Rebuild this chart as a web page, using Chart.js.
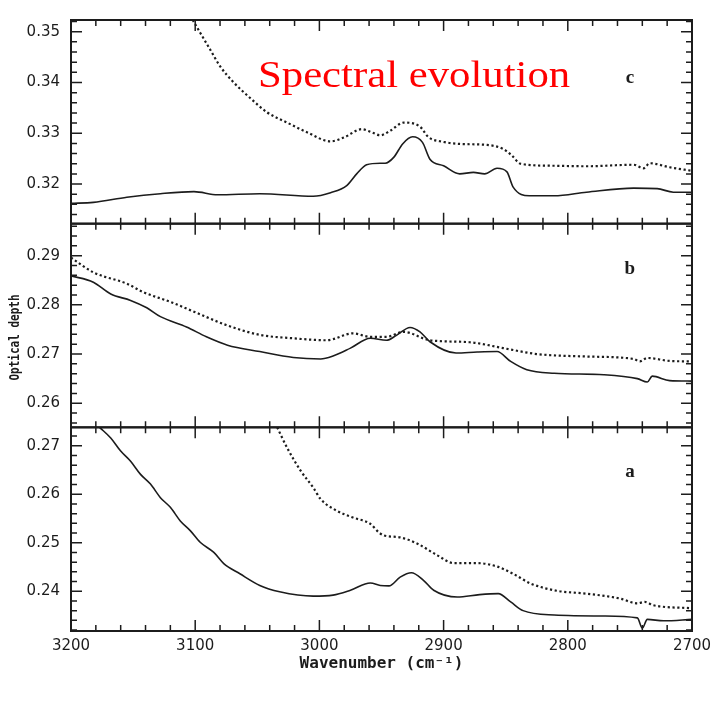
<!DOCTYPE html>
<html>
<head>
<meta charset="utf-8">
<script src="https://cdn.jsdelivr.net/npm/chart.js@4.4.1/dist/chart.umd.min.js"></script>
<style>
  html, body { margin: 0; padding: 0; background: #fff; }
  #wrap { width: 728px; height: 701px; }
</style>
</head>
<body>
<div id="wrap"><canvas id="chart" width="728" height="701"></canvas></div>
<script>
// Panel c (top)
const cSolidWn  = [3200, 3182, 3155, 3128, 3101, 3082, 3048, 3005, 2991, 2978, 2970, 2962, 2951, 2947, 2940, 2933, 2925, 2917, 2911, 2900, 2887, 2876, 2867, 2857, 2849, 2844, 2831, 2811, 2785, 2747, 2728, 2715, 2700];
const cSolidVal = [0.3162, 0.3164, 0.3174, 0.3181, 0.3185, 0.3179, 0.3181, 0.3176, 0.3183, 0.3197, 0.3220, 0.3238, 0.3241, 0.3241, 0.3253, 0.3279, 0.3293, 0.3282, 0.3249, 0.3236, 0.3220, 0.3223, 0.3220, 0.3231, 0.3224, 0.3194, 0.3177, 0.3177, 0.3184, 0.3192, 0.3191, 0.3184, 0.3184];
const cDotWn  = [3102, 3096, 3088, 3080, 3069, 3056, 3042, 3026, 3010, 2991, 2980, 2966, 2958, 2951, 2943, 2932, 2919, 2912, 2900, 2887, 2865, 2852, 2845, 2838, 2811, 2785, 2747, 2739, 2734, 2718, 2700];
const cDotVal = [0.3523, 0.3498, 0.3465, 0.3432, 0.3400, 0.3370, 0.3341, 0.3321, 0.3302, 0.3284, 0.3292, 0.3308, 0.3302, 0.3296, 0.3305, 0.3321, 0.3313, 0.3292, 0.3283, 0.3279, 0.3277, 0.3269, 0.3256, 0.3240, 0.3236, 0.3235, 0.3238, 0.3231, 0.3241, 0.3233, 0.3226];

// Panel b (middle)
const bSolidWn  = [3200, 3182, 3168, 3152, 3139, 3128, 3107, 3091, 3074, 3048, 3021, 2999, 2989, 2975, 2959, 2946, 2938, 2927, 2919, 2911, 2890, 2873, 2857, 2846, 2833, 2811, 2771, 2744, 2736, 2732, 2718, 2700];
const bSolidVal = [0.2859, 0.2846, 0.2822, 0.2809, 0.2794, 0.2776, 0.2755, 0.2735, 0.2718, 0.2705, 0.2693, 0.2690, 0.2696, 0.2712, 0.2732, 0.2728, 0.2738, 0.2754, 0.2745, 0.2725, 0.2702, 0.2704, 0.2705, 0.2685, 0.2668, 0.2661, 0.2658, 0.2650, 0.2643, 0.2655, 0.2646, 0.2645];
const bDotWn  = [3200, 3182, 3155, 3142, 3120, 3101, 3075, 3048, 3021, 2994, 2973, 2959, 2946, 2932, 2911, 2879, 2852, 2825, 2785, 2747, 2742, 2736, 2718, 2700];
const bDotVal = [0.2896, 0.2866, 0.2843, 0.2826, 0.2806, 0.2786, 0.2759, 0.2739, 0.2732, 0.2728, 0.2742, 0.2735, 0.2735, 0.2745, 0.2728, 0.2724, 0.2712, 0.2700, 0.2695, 0.2690, 0.2685, 0.2692, 0.2686, 0.2685];

// Panel a (bottom)
const aSolidWn  = [3177, 3168, 3160, 3152, 3144, 3136, 3128, 3120, 3112, 3104, 3096, 3085, 3077, 3064, 3048, 3032, 3005, 2989, 2975, 2959, 2951, 2944, 2935, 2926, 2916, 2908, 2889, 2871, 2856, 2846, 2836, 2811, 2771, 2744, 2740, 2736, 2723, 2700];
const aSolidVal = [0.2738, 0.2716, 0.2689, 0.2668, 0.2641, 0.2621, 0.2593, 0.2573, 0.2545, 0.2525, 0.2501, 0.2480, 0.2457, 0.2436, 0.2412, 0.2399, 0.2390, 0.2392, 0.2402, 0.2417, 0.2412, 0.2411, 0.2429, 0.2438, 0.2422, 0.2402, 0.2388, 0.2393, 0.2395, 0.2378, 0.2360, 0.2351, 0.2349, 0.2345, 0.2324, 0.2342, 0.2339, 0.2342];
const aDotWn  = [3034, 3026, 3015, 3005, 2999, 2986, 2973, 2959, 2952, 2948, 2935, 2921, 2905, 2892, 2873, 2857, 2844, 2830, 2809, 2785, 2758, 2744, 2738, 2731, 2700];
const aDotVal = [0.2738, 0.2696, 0.2648, 0.2614, 0.2590, 0.2566, 0.2552, 0.2539, 0.2521, 0.2515, 0.2511, 0.2498, 0.2474, 0.2458, 0.2458, 0.2451, 0.2436, 0.2416, 0.2401, 0.2395, 0.2385, 0.2375, 0.2378, 0.2371, 0.2365];

// axis ranges per panel
const panelIds = ['ya', 'yb', 'yc'];
const panelLetters = ['a', 'b', 'c'];
const panelMin = [0.2318, 0.2551, 0.3122];
const panelMax = [0.2738, 0.2965, 0.3523];
const xTickLabels = [3200, 3100, 3000, 2900, 2800, 2700];

const INK = '#1c1c1c';

function toPoints(wn, vals) {
    return wn.map((x, i) => ({ x: x, y: vals[i] }));
}

function lineSet(wn, vals, axis, dotted) {
    return {
        data: toPoints(wn, vals),
        yAxisID: axis,
        borderColor: INK,
        borderWidth: dotted ? 2.2 : 1.6,
        borderDash: dotted ? [2.2, 2.6] : [],
        pointRadius: 0,
        fill: false,
        cubicInterpolationMode: 'monotone'
    };
}

function panelScale(i) {
    return {
        type: 'linear',
        position: 'left',
        stack: 'panels',
        stackWeight: 1,
        min: panelMin[i],
        max: panelMax[i],
        grid: { display: false, drawTicks: false },
        border: { display: false },
        ticks: {
            stepSize: 0.01,
            includeBounds: false,
            padding: 11,
            color: INK,
            font: { family: 'DejaVu Sans', size: 15 },
            callback: v => v.toFixed(2)
        },
        afterFit: s => { s.width = 71; }
    };
}

// frames, inward ticks and labels
const framePlugin = {
    id: 'frames',
    afterDatasetsDraw(chart) {
        const ctx = chart.ctx;
        const xs = chart.scales.x;
        const left = chart.chartArea.left, right = chart.chartArea.right;
        ctx.save();
        ctx.strokeStyle = INK;
        panelIds.forEach((id, i) => {
            const ys = chart.scales[id];
            const top = ys.top, bottom = ys.bottom;
            ctx.lineWidth = 1.5;
            ctx.beginPath();
            for (let w = 2700; w <= 3200; w += 20) {
                const px = xs.getPixelForValue(w);
                const len = w % 100 === 0 ? 11 : 6;
                ctx.moveTo(px, bottom); ctx.lineTo(px, bottom - len);
                ctx.moveTo(px, top); ctx.lineTo(px, top + len);
            }
            const start = Math.ceil(panelMin[i] / 0.002 - 1e-6);
            const end = Math.floor(panelMax[i] / 0.002 + 1e-6);
            for (let k = start; k <= end; k++) {
                const py = ys.getPixelForValue(k * 0.002);
                const len = k % 5 === 0 ? 11 : 6;
                ctx.moveTo(left, py); ctx.lineTo(left + len, py);
                ctx.moveTo(right, py); ctx.lineTo(right - len, py);
            }
            ctx.stroke();
            ctx.lineWidth = 2;
            ctx.strokeRect(left, top, right - left, bottom - top);

            ctx.fillStyle = INK;
            ctx.font = 'bold 19px "Liberation Serif"';
            ctx.textAlign = 'center';
            ctx.textBaseline = 'middle';
            const ly = i === 2 ? top + 58 : top + 45;
            ctx.fillText(panelLetters[i], xs.getPixelForValue(2750), ly);
        });

        // y axis title
        const yb = chart.scales.yb;
        ctx.save();
        ctx.translate(16, (yb.top + yb.bottom) / 2 + 12);
        ctx.scale(1.2, 1);
        ctx.rotate(-Math.PI / 2);
        ctx.font = 'bold 11px "DejaVu Sans Mono"';
        ctx.fillText('Optical depth', 0, 0);
        ctx.restore();

        // red overlay title
        ctx.save();
        ctx.fillStyle = '#ff0000';
        ctx.font = '37px "Liberation Serif"';
        ctx.textAlign = 'left';
        ctx.textBaseline = 'alphabetic';
        ctx.translate(258, 87);
        ctx.scale(1.155, 1);
        ctx.fillText('Spectral evolution', 0, 0);
        ctx.restore();
        ctx.restore();
    }
};

new Chart(document.getElementById('chart'), {
    type: 'line',
    data: {
        datasets: [
            lineSet(aSolidWn, aSolidVal, 'ya', false),
            lineSet(aDotWn, aDotVal, 'ya', true),
            lineSet(bSolidWn, bSolidVal, 'yb', false),
            lineSet(bDotWn, bDotVal, 'yb', true),
            lineSet(cSolidWn, cSolidVal, 'yc', false),
            lineSet(cDotWn, cDotVal, 'yc', true)
        ]
    },
    options: {
        responsive: false,
        devicePixelRatio: 1,
        animation: false,
        layout: { padding: { left: 0, right: 36, top: 14, bottom: 20 } },
        plugins: { legend: { display: false }, tooltip: { enabled: false } },
        scales: {
            x: {
                type: 'linear',
                reverse: true,
                min: 2700,
                max: 3200,
                grid: { display: false, drawTicks: false },
                border: { display: false },
                afterBuildTicks: s => { s.ticks = xTickLabels.map(v => ({ value: v })); },
                ticks: {
                    padding: 6,
                    maxRotation: 0,
                    autoSkip: false,
                    color: INK,
                    font: { family: 'DejaVu Sans', size: 15 },
                    callback: v => String(v)
                },
                title: {
                    display: true,
                    text: 'Wavenumber (cm\u207B\u00B9)',
                    color: INK,
                    font: { family: 'DejaVu Sans Mono', size: 16, weight: 'bold' },
                    padding: { top: 0, bottom: 8 }
                },
                afterFit: s => { s.height = 50; }
            },
            ya: panelScale(0),
            yb: panelScale(1),
            yc: panelScale(2)
        }
    },
    plugins: [framePlugin]
});
</script>
</body>
</html>
